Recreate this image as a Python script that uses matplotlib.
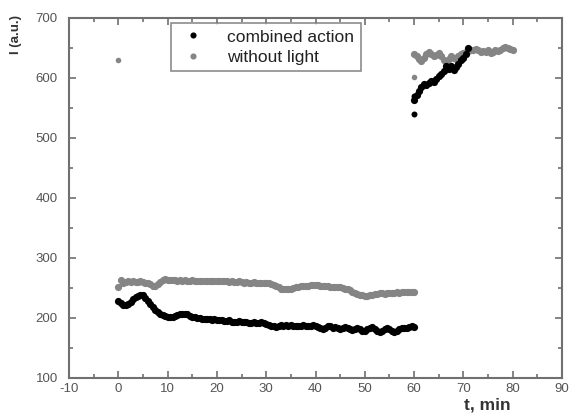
import numpy as np
import matplotlib
matplotlib.use("Agg")
import matplotlib.pyplot as plt
from matplotlib.ticker import MultipleLocator

# ---- data ----
comb_a = [228, 225, 222, 221, 224, 227, 231, 235, 237, 239, 238, 234, 228, 223, 218, 214,
          210, 207, 205, 203, 202, 202, 202, 203, 205, 206, 207, 206, 206, 204, 202, 201,
          200, 200, 199, 198, 199, 198, 197, 198, 197, 196, 197, 195, 195, 196, 194, 193,
          194, 195, 193, 193, 194, 192, 192, 193, 192, 191, 193, 192, 190, 189, 187, 186,
          185, 187, 188, 187, 188, 187, 188, 187, 186, 187, 186, 188, 187, 186, 187, 188,
          187, 185, 183, 182, 184, 186, 186, 184, 185, 183, 181, 183, 185, 184, 182, 180,
          181, 184, 182, 179, 179, 181, 184, 185, 182, 179, 177, 179, 182, 184, 182, 179,
          177, 178, 181, 183, 184, 183, 185, 186, 185]
dark_a = [252, 263, 258, 260, 261, 260, 261, 260, 260, 261, 260, 259, 258, 256, 254, 253,
          256, 260, 264, 265, 264, 263, 264, 263, 262, 263, 262, 263, 262, 262, 263, 262,
          262, 261, 262, 262, 261, 262, 261, 262, 262, 261, 261, 262, 261, 260, 261, 260,
          260, 261, 260, 259, 260, 259, 259, 260, 259, 259, 258, 259, 258, 258, 257, 255,
          253, 251, 249, 248, 248, 248, 249, 250, 251, 252, 253, 253, 254, 254, 255, 255,
          255, 255, 254, 254, 253, 253, 252, 252, 251, 251, 251, 250, 249, 248, 246, 244,
          242, 240, 239, 238, 237, 237, 238, 239, 240, 240, 241, 241, 240, 241, 242, 242,
          242, 243, 242, 243, 244, 244, 244, 243, 243]
comb_b = [564, 572, 578, 585, 590, 588, 592, 595, 593, 598, 604, 606, 612, 620, 615, 620,
          614, 618, 624, 630, 633, 640, 650]
dark_b = [640, 636, 632, 628, 633, 640, 643, 640, 636, 638, 641, 636, 630, 627, 632, 636,
          634, 631, 636, 640, 642, 644, 645, 647, 646, 648, 646, 643, 645, 644, 646, 642,
          644, 646, 645, 647, 650, 652, 650, 648, 646]
comb_extra_t = [60, 60]
comb_extra_v = [540, 570]
dark_extra_t = [0, 60]
dark_extra_v = [630, 602]

t_a = np.linspace(0, 60, len(comb_a))
t_da = np.linspace(0, 60, len(dark_a))
t_b = np.linspace(60, 71, len(comb_b))
t_db = np.linspace(60, 80, len(dark_b))

gray = "#858585"
axcol = "#707070"

plt.rcParams['font.family'] = ['Liberation Sans', 'DejaVu Sans']
plt.rcParams['axes.unicode_minus'] = False
fig = plt.figure(figsize=(5.7, 4.18), dpi=100)
ax = fig.add_axes([69/570, 1-378/418, (562-69)/570, (378-18)/418])

ms = 5.2
ax.plot(t_da, dark_a, 'o', color=gray, ms=ms, mec='none', label='without light')
ax.plot(t_db, dark_b, 'o', color=gray, ms=ms, mec='none')
ax.plot(dark_extra_t, dark_extra_v, 'o', color=gray, ms=4, mec='none')
ax.plot(t_a, comb_a, 'o', color='black', ms=ms, mec='none', label='combined action')
ax.plot(t_b, comb_b, 'o', color='black', ms=ms, mec='none')
ax.plot(comb_extra_t, comb_extra_v, 'o', color='black', ms=4.3, mec='none')

ax.set_xlim(-10, 90)
ax.set_ylim(100, 700)
ax.xaxis.set_major_locator(MultipleLocator(10))
ax.xaxis.set_minor_locator(MultipleLocator(5))
ax.yaxis.set_major_locator(MultipleLocator(100))
ax.yaxis.set_minor_locator(MultipleLocator(50))
ax.tick_params(which='both', direction='in', top=True, right=True, color=axcol,
               labelcolor='#555555', labelsize=9.5, width=1.2)
ax.tick_params(which='major', length=5)
ax.tick_params(which='minor', length=3)
ax.tick_params(axis='y', pad=8)
for s in ax.spines.values():
    s.set_color(axcol)
    s.set_linewidth(1.5)

h, l = ax.get_legend_handles_labels()
leg = ax.legend(h[::-1], l[::-1], loc='upper left', bbox_to_anchor=(0.2, 0.995),
                fontsize=12.5, frameon=True, fancybox=False, edgecolor=axcol,
                handlelength=1.8, handletextpad=1.1, borderpad=0.35, labelspacing=0.3,
                markerscale=0.85, borderaxespad=0.2)
leg.get_frame().set_linewidth(1.2)
for txt in leg.get_texts():
    txt.set_color('#222222')

fig.text(16/570, 1-35/418, 'I (a.u.)', rotation=90, ha='center', va='center',
         fontsize=9.5, fontweight='bold', color='#333333')
fig.text(487/570, 1-405/418, 't, min', ha='center', va='center',
         fontsize=12.5, fontweight='bold', color='#333333')

fig.savefig('out.png', dpi=100)
